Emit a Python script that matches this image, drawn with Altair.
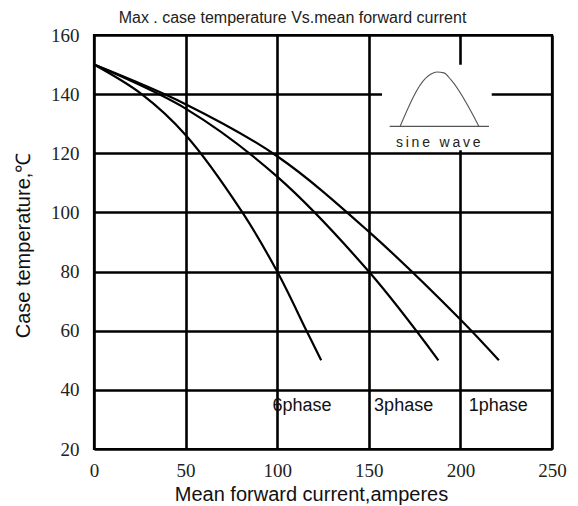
import altair as alt
import pandas as pd

# Curves (current A, case temperature °C)
x_6 = [0, 26, 50, 81, 100, 116, 124]
y_6 = [150, 140, 126.2, 100, 80, 60, 50]
x_3 = [0, 50, 100, 150, 188]
y_3 = [150, 135.1, 112.1, 80, 50]
x_1 = [0, 50, 100, 150, 200, 221]
y_1 = [150, 136.6, 119, 93.5, 63.8, 50]

phase_labels = ["6phase", "3phase", "1phase"]
label_x = [97.4, 152.9, 204.6]
label_y = [32.8, 33.0, 32.8]

title_text = "Max . case temperature Vs.mean forward current"

# inset icon
wave_x = [167.0, 181.2, 184.0, 187.2, 191.0, 194.9, 210.2]
wave_y = [129.0, 145.5, 146.8, 147.5, 147.2, 144.8, 129.0]
base_x = [161.4, 215.6]
base_y = [129.1, 129.1]
inset_box = {"x": 157.2, "x2": 217.1, "y": 121.0, "y2": 149.9}
inset_text = "s\u2009i\u2009n\u2009e\u2009 \u2009w\u2009a\u2009v\u2009e"
inset_text_x = 187.9
inset_text_y = 122.2

x_ticks = [0, 50, 100, 150, 200, 250]
y_ticks = [20, 40, 60, 80, 100, 120, 140, 160]

rows = []
for name, xs_, ys_ in [("6phase", x_6, y_6), ("3phase", x_3, y_3), ("1phase", x_1, y_1)]:
    for i, (a, b) in enumerate(zip(xs_, ys_)):
        rows.append({"series": name, "i": i, "x": a, "y": b})
curves = pd.DataFrame(rows)

xs = alt.Scale(domain=[0, 250], nice=False, zero=False)
ys = alt.Scale(domain=[20, 160], nice=False, zero=False)

xax = alt.Axis(values=x_ticks, grid=True, ticks=False, domain=False,
               gridColor="black", gridWidth=2.6, gridOpacity=1,
               labelFont="Liberation Serif", labelFontSize=19, labelColor="#222",
               labelPadding=12, labelFlush=False,
               title="Mean forward current,amperes", titleFont="Liberation Sans",
               titleFontSize=20, titleFontWeight="normal", titleColor="#111",
               titleX=217, titleY=51, titleBaseline="alphabetic", titleAnchor="start",
               titleAlign="center")
yax = alt.Axis(values=y_ticks, grid=True, ticks=False, domain=False,
               gridColor="black", gridWidth=2.6, gridOpacity=1,
               labelFont="Liberation Serif", labelFontSize=19, labelColor="#222",
               labelPadding=15, labelFlush=False,
               title="Case temperature,℃", titleFont="Liberation Sans",
               titleFontSize=20, titleFontWeight="normal", titleColor="#111",
               titleX=-65, titleY=210, titleAngle=-90, titleBaseline="alphabetic",
               titleAlign="center", titleAnchor="start")

base = alt.Chart(curves).mark_line(color="black", strokeWidth=2.2, interpolate="catmull-rom").encode(
    x=alt.X("x:Q", scale=xs, axis=xax),
    y=alt.Y("y:Q", scale=ys, axis=yax),
    detail="series:N",
    order="i:Q",
)

box = alt.Chart(pd.DataFrame([inset_box])).mark_rect(fill="white").encode(
    x=alt.X("x:Q", scale=xs), x2="x2:Q", y=alt.Y("y:Q", scale=ys), y2="y2:Q"
)

wave = alt.Chart(pd.DataFrame({"x": wave_x, "y": wave_y, "i": range(len(wave_x))})).mark_line(
    color="#555", strokeWidth=1.1, interpolate="monotone"
).encode(x=alt.X("x:Q", scale=xs), y=alt.Y("y:Q", scale=ys), order="i:Q")

baseline = alt.Chart(pd.DataFrame({"x": base_x, "y": base_y})).mark_line(
    color="#555", strokeWidth=1.1
).encode(x=alt.X("x:Q", scale=xs), y=alt.Y("y:Q", scale=ys))

wave_label = alt.Chart(pd.DataFrame({"x": [inset_text_x], "y": [inset_text_y], "t": [inset_text]})).mark_text(
    font="Liberation Sans", fontSize=14, color="#222", align="center", baseline="alphabetic"
).encode(x=alt.X("x:Q", scale=xs), y=alt.Y("y:Q", scale=ys), text="t:N")

labels = alt.Chart(pd.DataFrame({"x": label_x, "y": label_y, "t": phase_labels})).mark_text(
    font="Liberation Sans", fontSize=18, color="#111", align="left", baseline="alphabetic"
).encode(x=alt.X("x:Q", scale=xs), y=alt.Y("y:Q", scale=ys), text="t:N")

title = alt.Chart(pd.DataFrame({"t": [title_text]})).mark_text(
    font="Liberation Sans", fontSize=16, color="#222", align="center", baseline="alphabetic"
).encode(x=alt.value(198.5), y=alt.value(-12), text="t:N")

chart = alt.layer(base, box, wave, baseline, wave_label, labels, title).properties(
    width=458, height=414,
    autosize=alt.AutoSizeParams(type="none"),
    padding={"left": 86, "top": 27, "right": 18, "bottom": 60},
    background="white",
).configure_view(stroke="black", strokeWidth=2.2)

chart.save("out.html", embed_options={"renderer": "svg", "actions": False})
